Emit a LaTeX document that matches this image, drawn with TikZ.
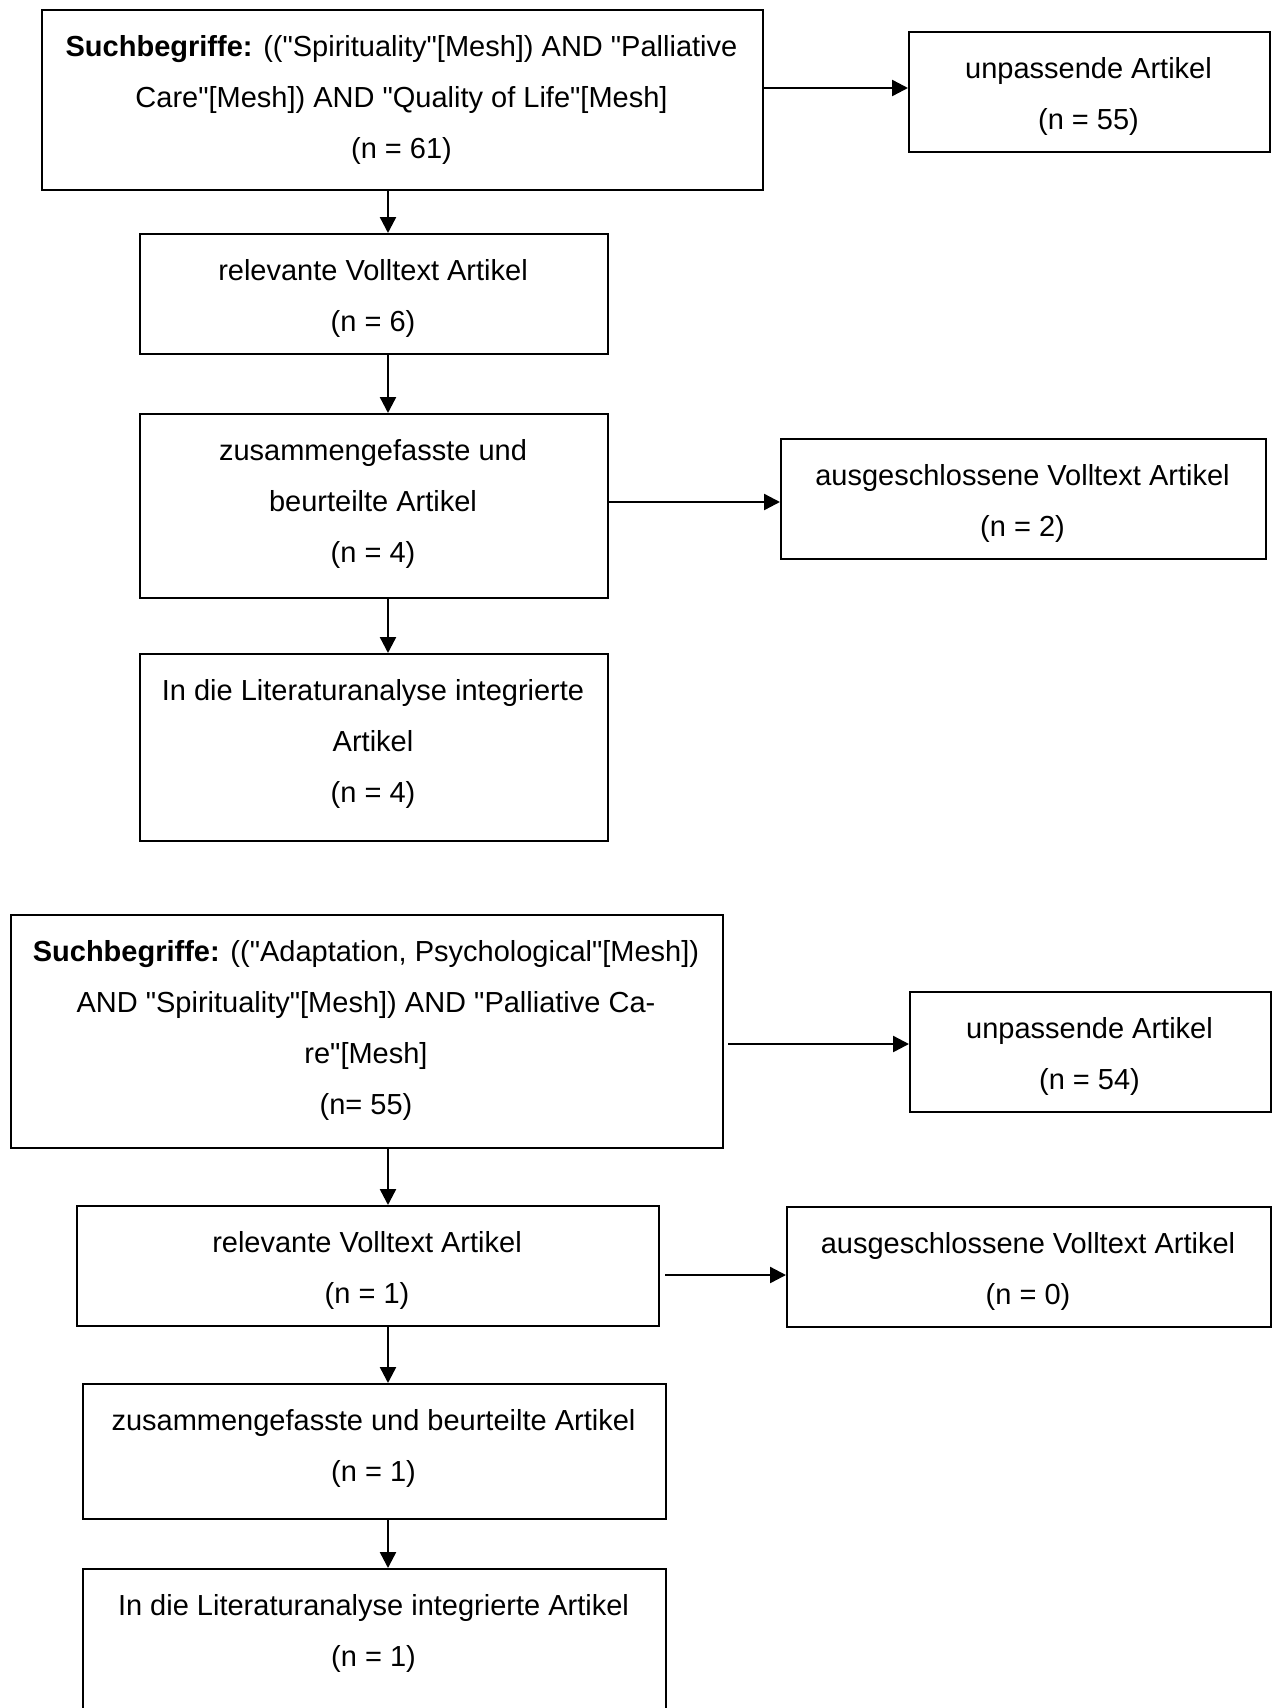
\documentclass[tikz,border=0pt]{standalone}
\usepackage{fontspec}
\setmainfont{Liberation Sans}[Ligatures=TeXOff]
\usetikzlibrary{arrows.meta}
\newcommand\flowbox[6]{%
  \node[boxstyle, minimum width={(#4-#2)*0.5pt}, minimum height={(#5-#3)*0.5pt}, anchor=north west] (#1) at (#2,#3) {};
  \node[txtstyle, anchor=north] (#1t) at ({(#2+#4)/2},{#3+26}) {#6};
}
\begin{document}
\begin{tikzpicture}[x=0.5pt,y=-0.5pt,
  boxstyle/.style={draw=black, line width=1.1pt, inner sep=0pt, rectangle},
  txtstyle/.style={inner sep=0pt, align=center, font=\fontsize{14.5}{25.5}\selectfont},
  arr/.style={-{Triangle[length=8pt,width=8pt]}, line width=1.2pt}]
\path[use as bounding box, fill=white] (0,0) rectangle (1276,1708);
\clip (0,0) rectangle (1276,1708);

\flowbox{b1}{41}{9}{762}{189}{\textbf{Suchbegriffe:} (("Spirituality"[Mesh]) AND "Palliative\\ Care"[Mesh]) AND "Quality of Life"[Mesh]\\ (n = 61)}
\flowbox{r1}{908}{31}{1269}{151}{unpassende Artikel\\ (n = 55)}
\flowbox{b2}{139}{233}{607}{353}{relevante Volltext Artikel\\ (n = 6)}
\flowbox{b3}{139}{413}{607}{597}{zusammengefasste und\\ beurteilte Artikel\\ (n = 4)}
\flowbox{r2}{780}{438}{1265}{558}{ausgeschlossene Volltext Artikel\\ (n = 2)}
\flowbox{b4}{139}{653}{607}{840}{In die Literaturanalyse integrierte\\ Artikel\\ (n = 4)}

\flowbox{b5}{10}{914}{722}{1147}{\textbf{Suchbegriffe:} (("Adaptation, Psychological"[Mesh])\\ AND "Spirituality"[Mesh]) AND "Palliative Ca-\\ re"[Mesh]\\ (n= 55)}
\flowbox{r3}{909}{991}{1270}{1111}{unpassende Artikel\\ (n = 54)}
\flowbox{b6}{76}{1205}{658}{1325}{relevante Volltext Artikel\\ (n = 1)}
\flowbox{r4}{786}{1206}{1270}{1326}{ausgeschlossene Volltext Artikel\\ (n = 0)}
\flowbox{b7}{82}{1383}{665}{1518}{zusammengefasste und beurteilte Artikel\\ (n = 1)}
\flowbox{b8}{82}{1568}{665}{1760}{In die Literaturanalyse integrierte Artikel\\ (n = 1)}

\coordinate (ax) at (388,0);
\coordinate (h1) at (0,88);
\coordinate (h2) at (0,502);
\coordinate (h3) at (0,1044);
\coordinate (h4) at (0,1275);

\draw[arr] (b1.south -| ax) -- (b2.north -| ax);
\draw[arr] (b2.south -| ax) -- (b3.north -| ax);
\draw[arr] (b3.south -| ax) -- (b4.north -| ax);
\draw[arr] (b5.south -| ax) -- (b6.north -| ax);
\draw[arr] (b6.south -| ax) -- (b7.north -| ax);
\draw[arr] (b7.south -| ax) -- (b8.north -| ax);

\draw[arr] (b1.east |- h1) -- (r1.west |- h1);
\draw[arr] (b3.east |- h2) -- (r2.west |- h2);
\draw[arr] ([xshift=2pt]b5.east |- h3) -- (r3.west |- h3);
\draw[arr] ([xshift=2.5pt]b6.east |- h4) -- (r4.west |- h4);
\end{tikzpicture}
\end{document}
